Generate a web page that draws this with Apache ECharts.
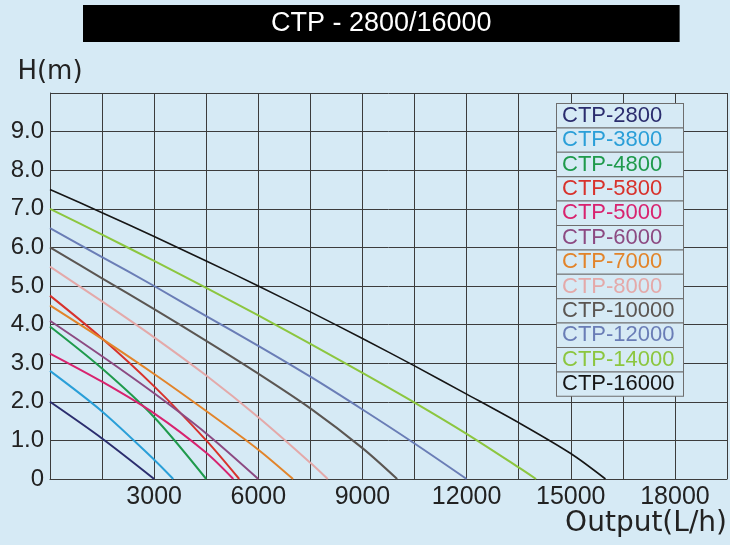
<!DOCTYPE html>
<html>
<head>
<meta charset="utf-8">
<script src="https://cdn.jsdelivr.net/npm/echarts@6/dist/echarts.min.js"></script>
<style>
  html, body { margin: 0; padding: 0; background: #d6eaf5; }
  #main { width: 730px; height: 545px; }
</style>
</head>
<body>
<div id="main"></div>
<script>
// 型号 (legend order)
var models = ['CTP-2800', 'CTP-3800', 'CTP-4800', 'CTP-5800', 'CTP-5000', 'CTP-6000',
              'CTP-7000', 'CTP-8000', 'CTP-10000', 'CTP-12000', 'CTP-14000', 'CTP-16000'];
var colors = ['#2b2d6e', '#2a9fd8', '#1f9a4c', '#d8322c', '#d8236f', '#8c4a82',
              '#e2842a', '#e4a9a9', '#5b5652', '#6a7db6', '#8cc63f', '#161616'];

// 流量 L/h 和 扬程 m
var flow2800 = [0, 1500, 3000];
var head2800 = [2.0, 1.05, 0];
var flow3800 = [0, 1500, 3000, 3550];
var head3800 = [2.8, 1.75, 0.5, 0];
var flow4800 = [0, 1500, 3000, 4500];
var head4800 = [3.95, 2.86, 1.6, 0];
var flow5800 = [0, 1500, 3000, 4500, 5450];
var head5800 = [4.75, 3.64, 2.4, 1.0, 0];
var flow5000 = [0, 1500, 3000, 4500, 5280];
var head5000 = [3.25, 2.52, 1.7, 0.68, 0];
var flow6000 = [0, 1500, 3000, 4500, 6000];
var head6000 = [4.1, 3.18, 2.22, 1.18, 0];
var flow7000 = [0, 1500, 3000, 4500, 6000, 7000];
var head7000 = [4.5, 3.63, 2.72, 1.76, 0.76, 0];
var flow8000 = [0, 1500, 3000, 4500, 6000, 7500, 8000];
var head8000 = [5.5, 4.6, 3.67, 2.68, 1.6, 0.42, 0];
var flow10000 = [0, 1500, 3000, 4500, 6000, 7500, 9000, 10000];
var head10000 = [6.0, 5.2, 4.4, 3.58, 2.73, 1.83, 0.8, 0];
var flow12000 = [0, 1500, 3000, 4500, 6000, 7500, 9000, 10500, 12000];
var head12000 = [6.5, 5.75, 5.0, 4.22, 3.45, 2.65, 1.8, 0.92, 0];
var flow14000 = [0, 1500, 3000, 4500, 6000, 7500, 9000, 10500, 12000, 13500, 14000];
var head14000 = [7.0, 6.33, 5.65, 4.95, 4.24, 3.5, 2.75, 1.98, 1.17, 0.3, 0];
var flow16000 = [0, 1500, 3000, 4500, 6000, 7500, 9000, 10500, 12000, 13500, 15000, 16000];
var head16000 = [7.5, 6.9, 6.28, 5.65, 5.0, 4.33, 3.64, 2.93, 2.2, 1.46, 0.66, 0];

var flows = [flow2800, flow3800, flow4800, flow5800, flow5000, flow6000,
             flow7000, flow8000, flow10000, flow12000, flow14000, flow16000];
var heads = [head2800, head3800, head4800, head5800, head5000, head6000,
             head7000, head8000, head10000, head12000, head14000, head16000];

var bg = '#d6eaf5';
var gridColor = '#3c3c3c';

var series = models.map(function (name, i) {
    return {
        name: name,
        type: 'line',
        smooth: 0.3,
        showSymbol: false,
        color: colors[i],
        lineStyle: { width: i === 11 ? 1.6 : 2 },
        data: flows[i].map(function (q, j) { return [q, heads[i][j]]; })
    };
});

var legendData = models.map(function (name, i) {
    return { name: name, textStyle: { color: colors[i] } };
});

echarts.init(document.getElementById('main')).setOption({
    backgroundColor: bg,
    animation: false,
    title: {
        text: 'CTP - 2800/16000',
        left: 83,
        top: 5,
        padding: [4, 188, 4, 188],
        backgroundColor: '#000',
        textStyle: {
            color: '#fff',
            fontFamily: 'Liberation Sans',
            fontWeight: 'normal',
            fontSize: 27,
            lineHeight: 29
        }
    },
    legend: {
        orient: 'vertical',
        left: 551,
        top: 103,
        padding: 0,
        itemGap: -1,
        itemWidth: 0,
        itemHeight: 0,
        selectedMode: false,
        data: legendData,
        textStyle: {
            fontFamily: 'Liberation Sans',
            fontSize: 22,
            width: 121,
            height: 23.4,
            lineHeight: 23.4,
            padding: [0, 0, 0, 5],
            borderColor: '#6e6e6e',
            borderWidth: 1,
            backgroundColor: bg
        }
    },
    grid: {
        left: 50,
        top: 93,
        bottom: 66,
        right: -6
    },
    xAxis: {
        type: 'value',
        min: 0,
        max: 19500,
        interval: 1500,
        name: 'Output(L/h)',
        nameLocation: 'end',
        nameGap: 0,
        nameTextStyle: {
            fontFamily: 'DejaVu Sans',
            fontSize: 28,
            color: '#222',
            align: 'right',
            verticalAlign: 'top',
            padding: [31, 0, 0, 0]
        },
        axisLine: { lineStyle: { color: gridColor, width: 1 } },
        axisTick: { show: false },
        splitLine: { show: true, lineStyle: { color: gridColor, width: 1 } },
        axisLabel: {
            margin: 6,
            fontFamily: 'Liberation Sans',
            fontSize: 25,
            color: '#222',
            formatter: function (v) { return (v > 0 && v % 3000 === 0 && v <= 18000) ? String(v) : ''; }
        }
    },
    yAxis: {
        type: 'value',
        min: 0,
        max: 10,
        interval: 1,
        name: 'H(m)',
        nameLocation: 'end',
        nameGap: 8,
        nameTextStyle: {
            fontFamily: 'DejaVu Sans',
            fontSize: 26,
            color: '#222',
            align: 'center'
        },
        axisLine: { show: true, lineStyle: { color: gridColor, width: 1 } },
        axisTick: { show: false },
        splitLine: { show: true, lineStyle: { color: gridColor, width: 1 } },
        axisLabel: {
            margin: 6,
            fontFamily: 'Liberation Sans',
            fontSize: 24,
            color: '#222',
            formatter: function (v) {
                if (v === 0) return '0';
                if (v >= 10) return '';
                return v.toFixed(1);
            }
        }
    },
    series: series
});
</script>
</body>
</html>
